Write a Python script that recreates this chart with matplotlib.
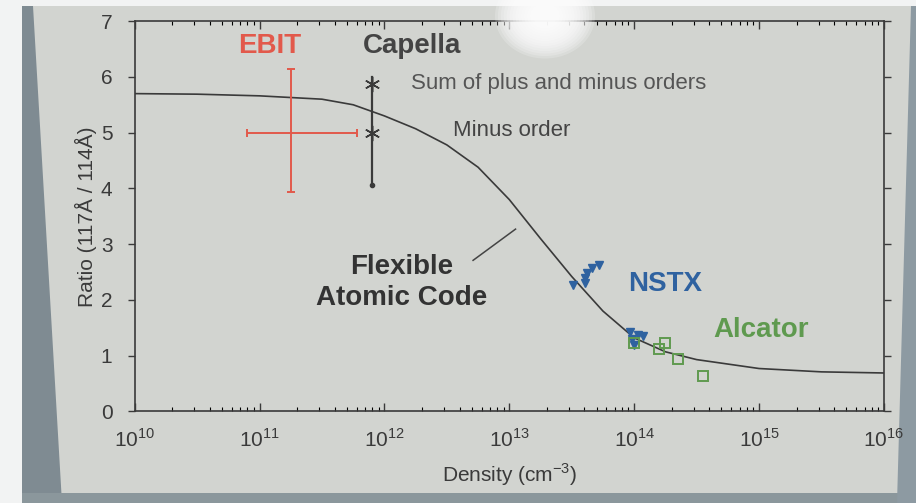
import numpy as np
import matplotlib
matplotlib.use("Agg")
import matplotlib.pyplot as plt
from matplotlib.patches import Polygon, Ellipse

plt.rcParams["font.family"] = ["Liberation Sans", "DejaVu Sans"]
plt.rcParams["mathtext.fontset"] = "custom"
plt.rcParams["mathtext.rm"] = "Liberation Sans"

# FAC theory curve (log10 density, ratio)
fac_logn = [10.0, 10.5, 11.0, 11.5, 11.75, 12.0, 12.25, 12.5, 12.75, 13.0,
            13.25, 13.5, 13.75, 14.0, 14.25, 14.5, 14.75, 15.0, 15.5, 16.0]
fac_ratio = [5.70, 5.69, 5.66, 5.60, 5.50, 5.30, 5.07, 4.78, 4.38, 3.80,
             3.10, 2.42, 1.80, 1.32, 1.07, 0.93, 0.85, 0.77, 0.71, 0.69]

# EBIT point with error bars
ebit_n = 1.8e11
ebit_n_lo = 8.0e10
ebit_n_hi = 6.0e11
ebit_ratio = 5.0
ebit_err = [1.07, 1.15]

# Capella (minus order, sum of plus and minus orders)
capella_n = 8.0e11
capella_minus = 5.0
capella_sum = 5.88
capella_lo = 4.07
capella_hi = 6.0

# NSTX
nstx_logn = [13.51, 13.61, 13.61, 13.66, 13.72, 13.62,
             13.97, 14.07, 14.00, 13.98, 14.03]
nstx_ratio = [2.27, 2.40, 2.31, 2.58, 2.62, 2.49,
              1.42, 1.36, 1.20, 1.30, 1.38]

# Alcator
alc_logn = [14.00, 14.20, 14.25, 14.35, 14.55]
alc_ratio = [1.22, 1.12, 1.22, 0.94, 0.64]

slide = "#d2d4d0"
red = "#e2594b"
blue = "#2f62a0"
green = "#5f9a4f"
dark = "#3a3a3a"

fig = plt.figure(figsize=(9.16, 5.03), dpi=100)
fig.patch.set_facecolor(slide)


def px_poly(pts, color):
    # polygon given in pixel coords from the top-left corner
    xy = [[x / 916, 1 - y / 503] for x, y in pts]
    fig.patches.append(Polygon(xy, closed=True, transform=fig.transFigure,
                               facecolor=color, edgecolor="none", zorder=-1))


# photo edges: white margin, dark slide edges
px_poly([(0, 0), (22, 0), (22, 503), (0, 503)], "#f2f3f3")
px_poly([(22, 6), (33, 6), (62, 503), (22, 503)], "#7f8b92")
px_poly([(22, 493), (916, 493), (916, 503), (22, 503)], "#8b979c")
px_poly([(0, 0), (916, 0), (916, 6), (0, 6)], "#f2f3f3")
px_poly([(911, 6), (916, 6), (916, 503), (897, 503)], "#8d9aa2")

ax = fig.add_axes([0.147, 0.182, 0.818, 0.776])
ax.set_facecolor(slide)

ax.plot(10 ** np.array(fac_logn), fac_ratio, color=dark, lw=1.2, zorder=2)

# EBIT
ax.errorbar([ebit_n], [ebit_ratio],
            xerr=[[ebit_n - ebit_n_lo], [ebit_n_hi - ebit_n]],
            yerr=[[ebit_err[0]], [ebit_err[1]]],
            fmt="none", ecolor=red, elinewidth=1.4, capsize=3, capthick=1.4, zorder=3)

# Capella
ax.plot([capella_n, capella_n], [capella_lo, capella_hi], color=dark, lw=1.6, zorder=3)
ax.plot([capella_n], [capella_lo], marker="o", ms=3, color=dark, zorder=3)
ax.plot([capella_n, capella_n], [capella_sum, capella_minus], ls="none",
        marker=(6, 2, 0), ms=11, mew=1.1, color=dark, zorder=4)

ax.plot(10 ** np.array(nstx_logn), nstx_ratio, ls="none", marker="v", ms=6,
        color=blue, zorder=4)
ax.plot(10 ** np.array(alc_logn), alc_ratio, ls="none", marker="s", ms=7,
        mfc="none", mec=green, mew=1.4, zorder=4)

ax.set_xscale("log")
ax.set_xlim(1e10, 1e16)
ax.set_ylim(0, 7)
ax.set_yticks(range(8))
ax.set_xticks([10.0 ** k for k in range(10, 17)])
ax.set_xticklabels([r"$10^{%d}$" % k for k in range(10, 17)])

ax.tick_params(axis="x", which="major", direction="in", length=6, width=1,
               top=True, bottom=True, labelsize=15, colors=dark, pad=12)
ax.tick_params(axis="x", which="minor", direction="in", length=3, width=0.8,
               top=True, bottom=True)
ax.tick_params(axis="y", which="major", direction="out", length=5, width=1,
               right=True, left=True, labelsize=15, colors=dark, pad=11)
for s in ax.spines.values():
    s.set_color(dark)
    s.set_linewidth(1.2)

ax.set_xlabel("Density (cm$^{-3}$)", fontsize=15, color=dark, labelpad=8)
ax.set_ylabel("Ratio (117Å / 114Å)", fontsize=15, color=dark, labelpad=3)

ax.text(10 ** 11.08, 6.55, "EBIT", color=red, fontsize=20, fontweight="bold",
        ha="center", va="center")
ax.text(10 ** 12.22, 6.55, "Capella", color="#444444", fontsize=20, fontweight="bold",
        ha="center", va="center")
ax.text(10 ** 12.21, 5.88, "Sum of plus and minus orders", color="#555555",
        fontsize=16, ha="left", va="center")
ax.text(10 ** 12.55, 5.03, "Minus order", color="#444444", fontsize=16,
        ha="left", va="center")
ax.text(10 ** 12.14, 2.31, "Flexible\nAtomic Code", color="#333333", fontsize=20,
        fontweight="bold", ha="center", va="center", linespacing=1.25)
ax.plot([10 ** 12.71, 10 ** 13.05], [2.71, 3.27], color="#444444", lw=1.1)
ax.text(10 ** 14.25, 2.29, "NSTX", color=blue, fontsize=20, fontweight="bold",
        ha="center", va="center")
ax.text(10 ** 15.02, 1.46, "Alcator", color=green, fontsize=20, fontweight="bold",
        ha="center", va="center")

# glare from the projector, soft white blob
for r in np.linspace(50, 12, 14):
    fig.patches.append(Ellipse((545 / 916, 1 - 16 / 503), 2 * r / 916, 1.7 * r / 503,
                               transform=fig.transFigure, facecolor="white",
                               edgecolor="none", alpha=0.2, zorder=10))

fig.savefig("out.png", dpi=100, facecolor=fig.get_facecolor())
